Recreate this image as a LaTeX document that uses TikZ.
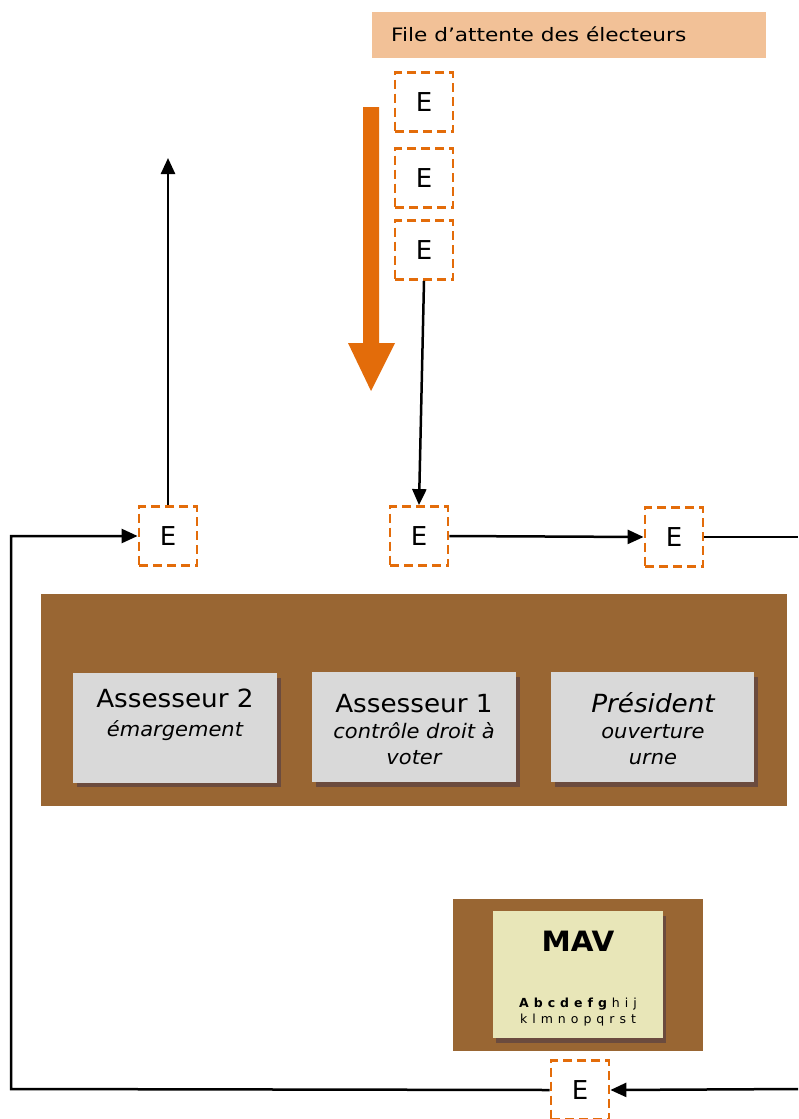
\documentclass[tikz,border=0pt]{standalone}
\usepackage{fontspec}
\setmainfont{DejaVu Sans}
\newfontfamily\hdrfont[FakeStretch=1.17]{DejaVu Sans}
\newfontfamily\rolefont[FakeStretch=1.05]{DejaVu Sans}
\newfontfamily\mavfont[LetterSpace=40]{DejaVu Sans}
\usetikzlibrary{arrows.meta}
\definecolor{orng}{HTML}{E36C0A}
\definecolor{peach}{HTML}{F2C197}
\definecolor{brwn}{HTML}{996633}
\definecolor{shad}{HTML}{6B4B3E}
\definecolor{grayb}{HTML}{D9D9D9}
\definecolor{yelb}{HTML}{E8E6B8}
\tikzset{
  ebox/.style={draw=orng, line width=2.8pt, dash pattern=on 9pt off 5pt, fill=white,
    minimum width=58pt, minimum height=59pt, inner sep=0pt, font=\fontsize{26}{28}\selectfont},
  conn/.style={line width=2.5pt, -{Triangle[length=16pt,width=14pt]}},
  plain/.style={line width=2.5pt},
  rolebox/.style={fill=grayb, minimum width=204pt, minimum height=110pt, inner sep=0pt},
  rtitle/.style={anchor=base, inner sep=0pt, font=\rolefont\fontsize{25}{27}\selectfont},
  rsub/.style={anchor=base, inner sep=0pt, font=\rolefont\fontsize{20}{22}\selectfont\itshape},
}
\begin{document}
\begin{tikzpicture}[x=1pt,y=-1pt]
\useasboundingbox (0,0) rectangle (798,1119);
% header
\node[fill=peach, minimum width=394pt, minimum height=46pt, inner sep=0pt] (hdr) at (569,35) {};
\node[anchor=base west, font=\hdrfont\fontsize{18.5}{20}\selectfont, inner sep=0pt] (hdrt) at (391,41.5) {File d’attente des électeurs};
% queue E boxes
\node[ebox] (e1) at (424,102) {E};
\node[ebox] (e2) at (424,178) {E};
\node[ebox] (e3) at (424,250) {E};
% big orange arrow
\fill[orng] (363,107) -- (379,107) -- (379,343) -- (395,343) -- (371,391) -- (348,343) -- (363,343) -- cycle;
% row E boxes
\node[ebox] (el) at (168,536) {E};
\node[ebox] (em) at (419,536) {E};
\node[ebox] (er) at (674,537) {E};
\node[ebox] (eb) at (580,1090) {E};
% table
\node[fill=brwn, minimum width=746pt, minimum height=212pt, inner sep=0pt] (table) at (414,700) {};
\fill[shad] (77,678) rectangle (281,787);
\fill[shad] (316,677) rectangle (520,787);
\fill[shad] (555,677) rectangle (758,787);
\node[rolebox] (a2) at (175,727.5) {};
\node[rolebox] (a1) at (414,727) {};
\node[rolebox, minimum width=203pt] (pr) at (652.5,727) {};
\node[rtitle] (a2t) at (175,707) {Assesseur 2};
\node[rsub] (a2s) at (175,736) {émargement};
\node[rtitle] (a1t) at (414,712) {Assesseur 1};
\node[rsub] (a1s) at (414,738.5) {contrôle droit à};
\node[rsub] (a1u) at (414,764.5) {voter};
\node[rtitle, font=\rolefont\fontsize{25}{27}\selectfont\itshape] (prt) at (653,712) {Président};
\node[rsub] (prs) at (653,738.5) {ouverture};
\node[rsub] (pru) at (653,764.5) {urne};
% MAV
\node[fill=brwn, minimum width=250pt, minimum height=152pt, inner sep=0pt] (mavb) at (578,975) {};
\fill[shad] (496,916) rectangle (666,1043);
\node[fill=yelb, minimum width=170pt, minimum height=127pt, inner sep=0pt] (mav) at (578,974.5) {};
\node[anchor=base, font=\rolefont\fontsize{28}{30}\selectfont\bfseries, inner sep=0pt] (mavt) at (578,951.5) {MAV};
\node[anchor=base, font=\mavfont\fontsize{12.5}{14}\selectfont, inner sep=0pt] (mava) at (578,1007) {\textbf{Abcdefg}hij};
\node[anchor=base, font=\mavfont\fontsize{12.5}{14}\selectfont, inner sep=0pt] (mavk) at (578,1023) {klmnopqrst};
% connectors
\coordinate (up) at (168,158);
\coordinate (rr) at (798,537);
\coordinate (rb) at (798,1089);
\coordinate (lb) at (11,1089);
\coordinate (lt) at (11,536);
\draw[conn] (e3.south) -- (em.north);
\draw[conn] (el.north) -- (up);
\draw[conn] (em.east) -- (er.west);
\draw[plain] (er.east) -- (rr);
\draw[conn] (rb) -- (eb.east);
\draw[conn] (eb.west) -- (lb) -- (lt) -- (el.west);
\end{tikzpicture}
\end{document}
